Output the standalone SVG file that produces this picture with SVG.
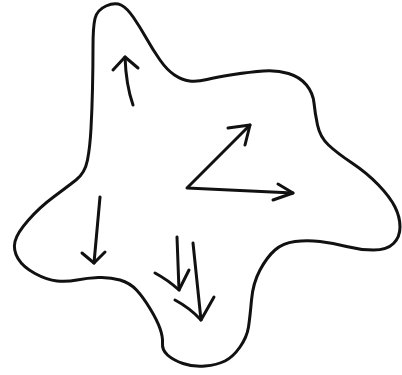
<svg xmlns="http://www.w3.org/2000/svg" width="402" height="375" viewBox="0 0 402 375">
<style>
.ink{fill:none;stroke:#111;stroke-width:3;stroke-linecap:round;stroke-linejoin:round}
</style>
<rect width="402" height="375" fill="#fff"/>
<g id="blob">
<path class="ink" d="M 106,6 Q 97,10 95,18.5 Q 93,27 93,47 Q 93,67 92.5,88.5 Q 92,110 91,128.5 Q 90,147 87.5,160 Q 85,173 76,180 Q 67,187 53.5,197 Q 40,207 28.5,220 Q 17,233 15,241.5 Q 13,250 18,258.5 Q 23,267 35,273.5 Q 47,280 57,281 Q 67,282 77,280 Q 87,278 98.5,277.5 Q 110,277 120,280 Q 130,283 136.5,290 Q 143,297 150,308.5 Q 157,320 160,328.5 Q 163,337 162.5,343.5 Q 162,350 167.5,355 Q 173,360 183,363.5 Q 193,367 205,366 Q 217,365 225,361 Q 233,357 240,347 Q 247,337 248.5,327 Q 250,317 251.5,300 Q 253,283 260,270 Q 267,257 275,250 Q 283,243 295,241.5 Q 307,240 320,241.5 Q 333,243 346.5,246.5 Q 360,250 373.5,250 Q 387,250 393.5,243.5 Q 400,237 400,227 Q 400,217 395,207 Q 390,197 378.5,185 Q 367,173 352,163 Q 337,153 328.5,145 Q 320,137 317.5,125 Q 315,113 314,103 Q 313,93 306.5,85 Q 300,77 288.5,73.5 Q 277,70 263.5,71 Q 250,72 233.5,74.5 Q 217,77 207,79.5 Q 197,82 189.5,81 Q 182,80 174.5,75 Q 167,70 160,60 Q 153,50 146.5,38.5 Q 140,27 133.5,17.5 Q 127,8 121,5 Q 115,2 106,6 Z"/>
</g>
<g id="connectors">
<path class="ink" d="M 133,105 Q 126,85 125,57"/>
<path class="ink" d="M 113,70 L 125,57 L 138,68"/>
<path class="ink" d="M 250,125 L 187,188 L 293,193"/>
<path class="ink" d="M 228,128 L 250,125 L 245,145"/>
<path class="ink" d="M 278,184 L 293,193 L 273,200"/>
<path class="ink" d="M 100,197 L 94,263"/>
<path class="ink" d="M 82,253 L 94,263 L 105,252"/>
<path class="ink" d="M 177,237 L 179,290"/>
<path class="ink" d="M 155,273 Q 168,280 179,290 L 189,270"/>
<path class="ink" d="M 193,243 L 201,320"/>
<path class="ink" d="M 175,300 Q 190,308 201,320 L 214,297"/>
</g>
</svg>
